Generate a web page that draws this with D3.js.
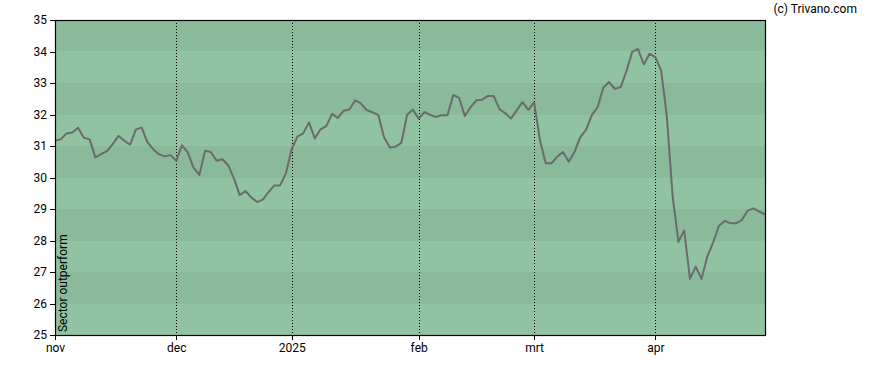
<!DOCTYPE html>
<html lang="nl">
<head>
  <meta charset="UTF-8">
  <title>Sector outperform</title>
  <style>
    body {
      margin: 0;
      background: #fff;
      font: 12px Roboto, sans-serif;
    }
    .axis path { display: none; }
    .axis line { stroke: #000; shape-rendering: crispEdges; }
    .axis text { fill: #000; font: 12px Roboto, sans-serif; }
    .band { shape-rendering: crispEdges; }
  </style>
  <script src="https://d3js.org/d3.v7.min.js"></script>
</head>
<body>
  <div id="chart"></div>
  <script>
    // one value per trading day, nov 2024 - apr 2025
    var values = [
      31.17, 31.21, 31.40, 31.43, 31.58, 31.26, 31.21, 30.64, 30.74, 30.84,
      31.06, 31.32, 31.17, 31.04, 31.52, 31.59, 31.12, 30.90, 30.74, 30.67,
      30.71, 30.53, 31.02, 30.80, 30.31, 30.08, 30.85, 30.81, 30.53, 30.58,
      30.39, 29.97, 29.44, 29.57, 29.37, 29.22, 29.30, 29.54, 29.75, 29.75,
      30.13, 30.90, 31.30, 31.40, 31.75, 31.24, 31.53, 31.63, 32.02, 31.89,
      32.12, 32.16, 32.45, 32.35, 32.14, 32.07, 31.99, 31.28, 30.95, 30.98,
      31.10, 31.99, 32.15, 31.87, 32.08, 31.99, 31.92, 31.98, 31.98, 32.62,
      32.53, 31.95, 32.23, 32.45, 32.47, 32.59, 32.59, 32.17, 32.04, 31.87,
      32.14, 32.39, 32.15, 32.39, 31.20, 30.45, 30.45, 30.66, 30.81, 30.50,
      30.81, 31.28, 31.51, 31.98, 32.23, 32.86, 33.03, 32.81, 32.87, 33.38,
      33.99, 34.08, 33.59, 33.93, 33.82, 33.40, 31.93, 29.40, 27.96, 28.32,
      26.78, 27.17, 26.78, 27.49, 27.93, 28.46, 28.62, 28.55, 28.55, 28.65,
      28.95, 29.02, 28.92, 28.83
    ];
    var monthLabels = ["nov", "dec", "2025", "feb", "mrt", "apr"];
    var monthIdx = [0, 21, 41, 63, 83, 104];
    var yTicks = [25, 26, 27, 28, 29, 30, 31, 32, 33, 34, 35];

    var W = 888, H = 370;
    var margin = {top: 20, right: 123, bottom: 35, left: 55};
    var width = W - margin.left - margin.right;
    var height = H - margin.top - margin.bottom;

    var x = d3.scaleLinear().domain([0, values.length - 1]).range([0, width]);
    var y = d3.scaleLinear().domain([25, 35]).range([height, 0]);

    var svg = d3.select('#chart').append('svg')
      .attr('width', W).attr('height', H);
    var g = svg.append('g')
      .attr('transform', 'translate(' + margin.left + ',' + margin.top + ')');

    // alternating horizontal bands, one per unit
    g.selectAll('.band').data(yTicks.slice(0, -1)).enter().append('rect')
      .attr('class', 'band')
      .attr('x', 0)
      .attr('width', width)
      .attr('y', function(d) { return Math.round(y(d + 1)); })
      .attr('height', function(d) { return Math.round(y(d)) - Math.round(y(d + 1)); })
      .attr('fill', function(d) { return (d % 2 === 0) ? '#8aba9a' : '#91c3a2'; });

    // dotted month lines
    g.selectAll('.vline').data(monthIdx.slice(1)).enter().append('line')
      .attr('x1', function(d) { return Math.round(x(d)) + 0.5; })
      .attr('x2', function(d) { return Math.round(x(d)) + 0.5; })
      .attr('y1', 0).attr('y2', height)
      .attr('stroke', '#000')
      .attr('stroke-width', 1)
      .attr('stroke-dasharray', '1,2');

    var line = d3.line()
      .x(function(d, i) { return x(i); })
      .y(function(d) { return y(d); });

    g.append('path')
      .datum(values)
      .attr('d', line)
      .attr('fill', 'none')
      .attr('stroke', '#6b6b6b')
      .attr('stroke-width', 2)
      .attr('stroke-linejoin', 'round');

    // frame
    g.append('rect')
      .attr('x', 0.5).attr('y', 0.5)
      .attr('width', width).attr('height', height)
      .attr('fill', 'none')
      .attr('stroke', '#000')
      .attr('stroke-width', 1.2);

    var yAxis = d3.axisLeft(y).tickValues(yTicks).tickSize(5).tickPadding(3)
      .tickFormat(d3.format('d'));
    g.append('g').attr('class', 'y axis').call(yAxis);

    var xAxis = d3.axisBottom(x).tickValues(monthIdx).tickSize(5).tickPadding(3)
      .tickFormat(function(d, i) { return monthLabels[i]; });
    g.append('g').attr('class', 'x axis')
      .attr('transform', 'translate(0,' + height + ')')
      .call(xAxis);

    g.append('text')
      .attr('transform', 'translate(12,' + (height - 3) + ') rotate(-90)')
      .attr('fill', '#000')
      .style('font', '12px Roboto, sans-serif')
      .text('Sector outperform');

    svg.append('text')
      .attr('x', 857).attr('y', 13)
      .attr('text-anchor', 'end')
      .attr('fill', '#000')
      .style('font', '12px Roboto, sans-serif')
      .text('(c) Trivano.com');
  </script>
</body>
</html>
